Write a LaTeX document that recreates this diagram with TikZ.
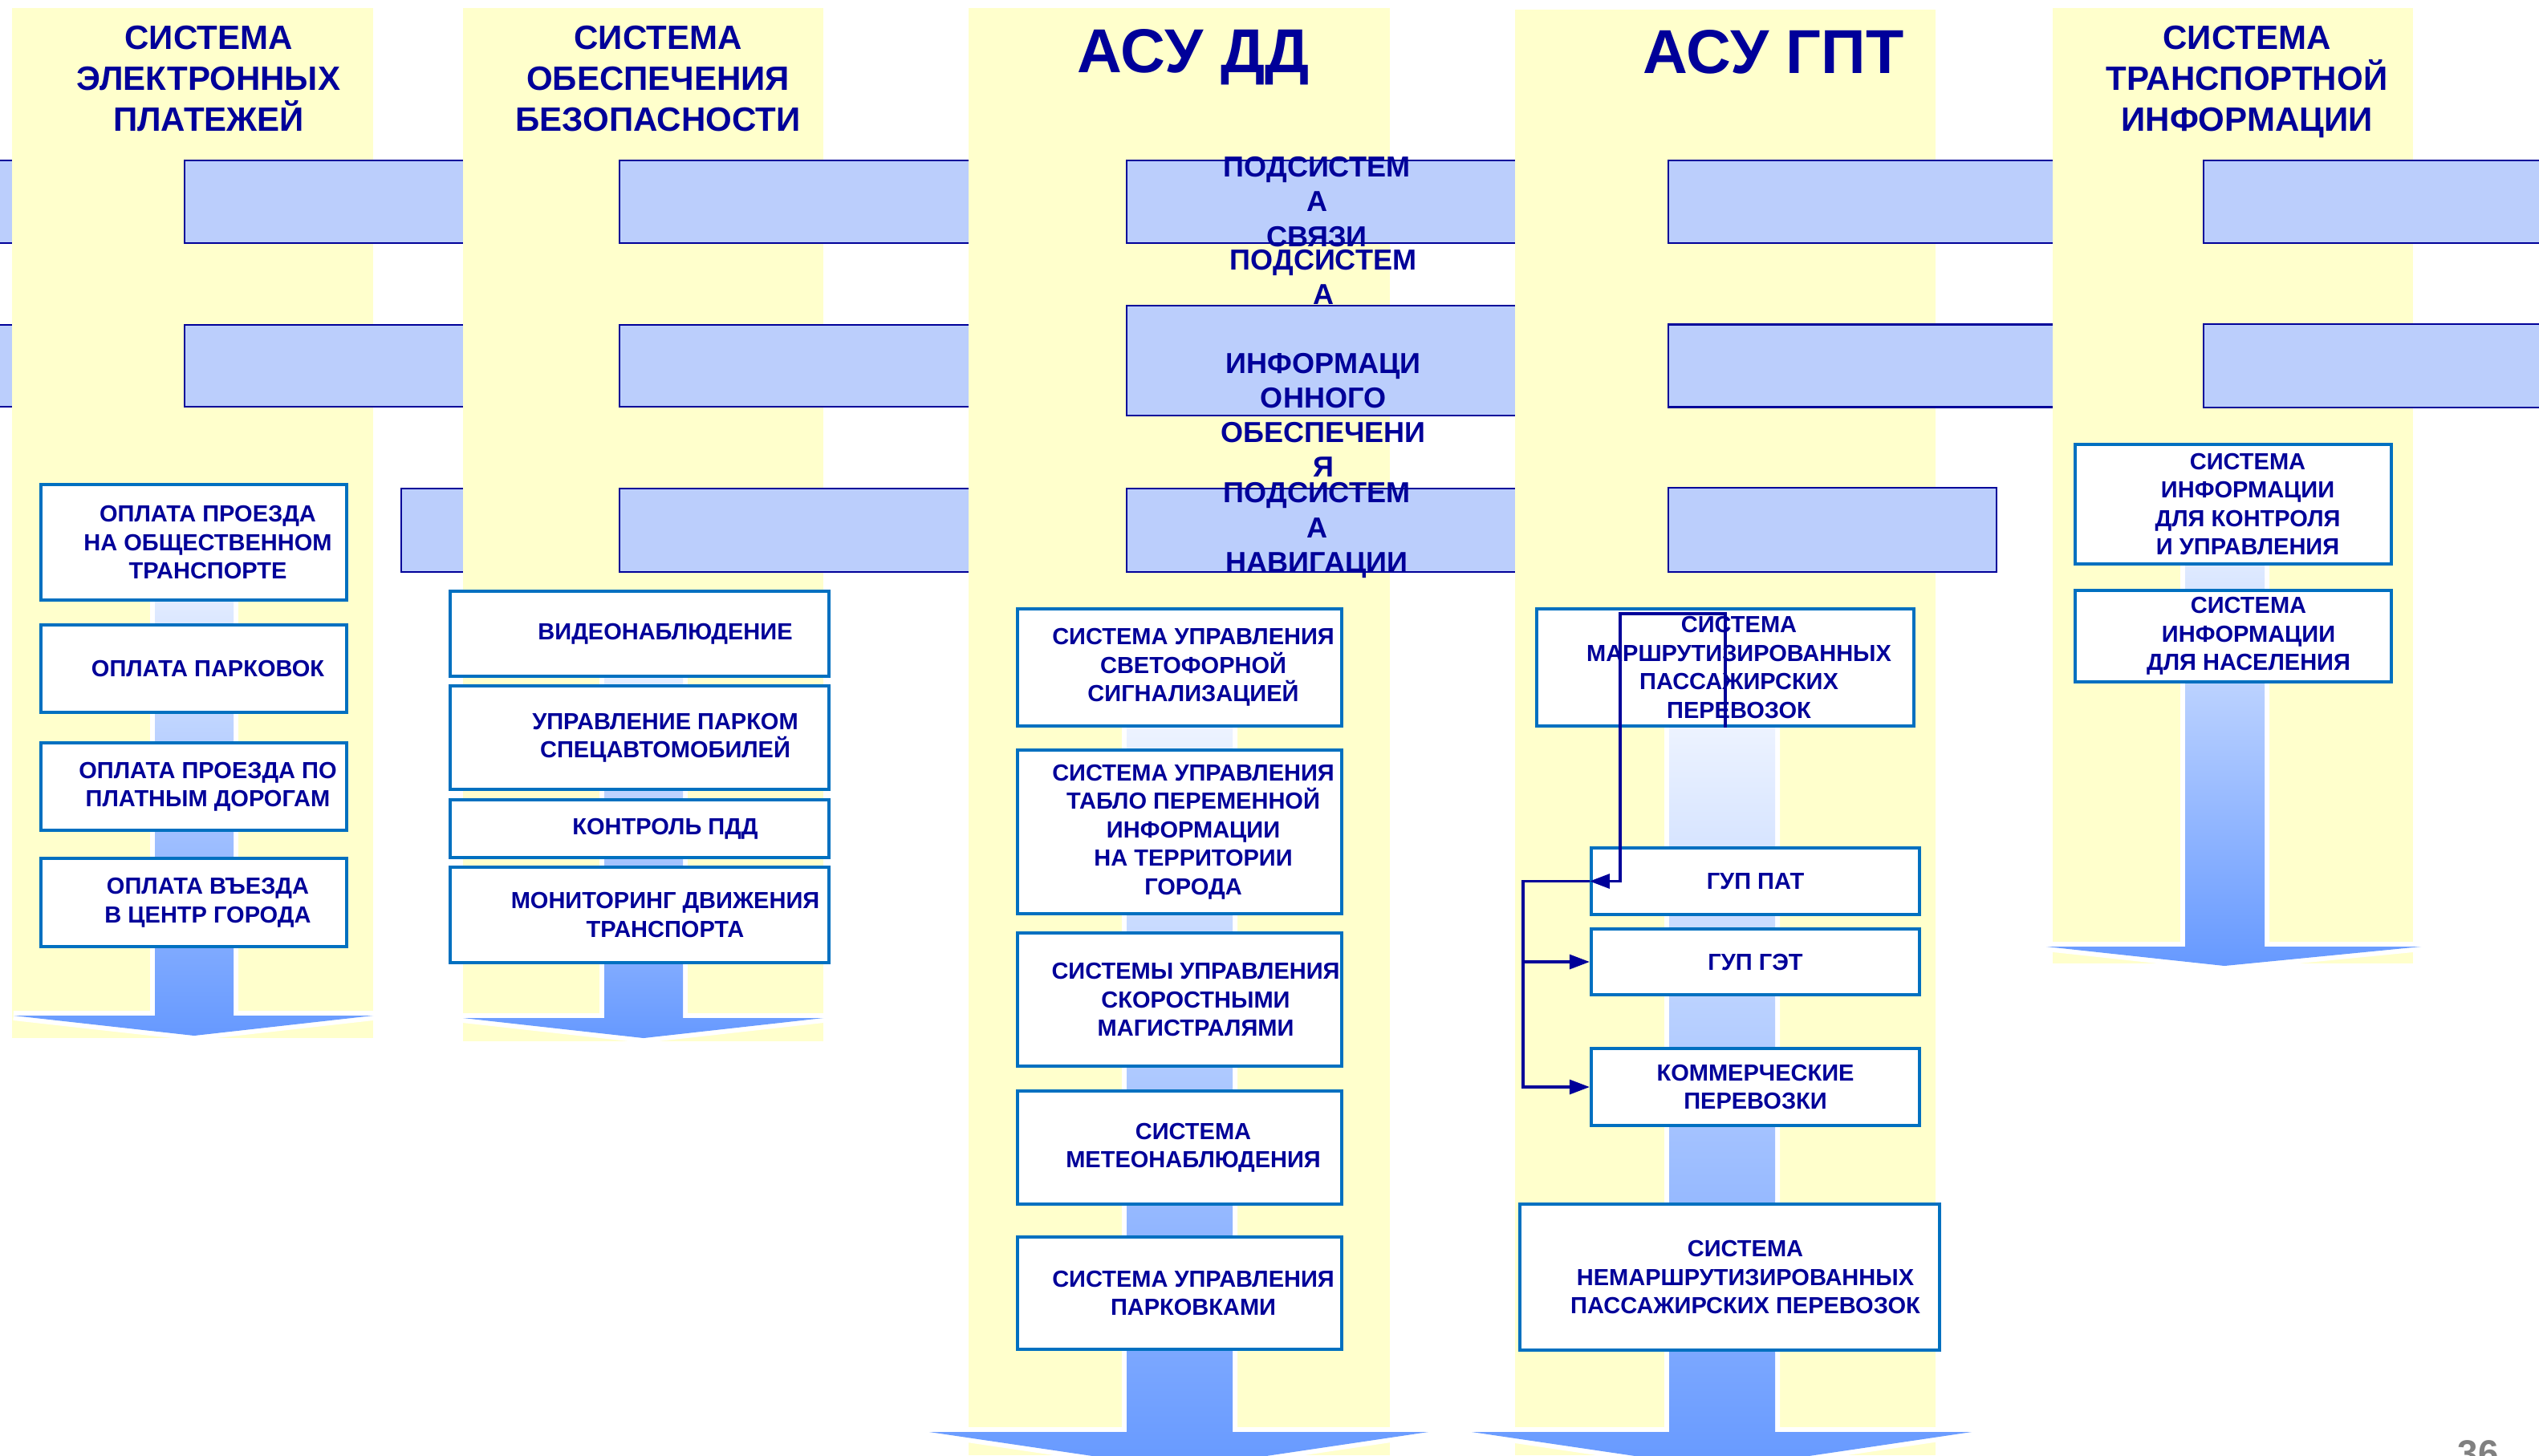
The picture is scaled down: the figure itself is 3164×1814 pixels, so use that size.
\documentclass[tikz,border=0pt]{standalone}
\usepackage{fontspec}
\setmainfont{Liberation Sans}
\usetikzlibrary{arrows.meta}
\definecolor{textnavy}{RGB}{0,0,153}
\definecolor{boxblue}{RGB}{0,112,192}
\definecolor{panelblue}{RGB}{187,206,252}
\definecolor{paleyellow}{RGB}{255,255,204}
\definecolor{flowblue}{RGB}{102,153,255}
\newcommand\boxtxtfont{\fontsize{8.25pt}{10.1pt}\selectfont\bfseries}
\newcommand\paneltxtfont{\fontsize{10.25pt}{12.25pt}\selectfont\bfseries}
\newcommand\headtxtfont{\fontsize{11.95pt}{14.5pt}\selectfont\bfseries}
\newcommand\bigtxtfont{\fontsize{22pt}{26pt}\selectfont\bfseries}
\newcommand\pagenumfont{\fontsize{13pt}{15pt}\selectfont\bfseries}
\tikzstyle{column} = [fill=paleyellow]
\tikzstyle{flow} = [top color=white, bottom color=flowblue, preaction={draw=white, line width=3.4pt, line join=bevel}]
\tikzstyle{panel} = [rectangle, draw=textnavy, fill=panelblue, line width=0.71pt, inner sep=0pt]
\tikzstyle{paneltxt} = [text=textnavy, font=\paneltxtfont, align=center, inner sep=0pt]
\tikzstyle{box} = [rectangle, draw=boxblue, fill=white, line width=1.14pt, inner sep=0pt]
\tikzstyle{txt} = [text=textnavy, font=\boxtxtfont, align=center, inner sep=0pt]
\tikzstyle{head} = [text=textnavy, font=\headtxtfont, align=center, anchor=north, inner sep=0pt]
\tikzstyle{line} = [draw=textnavy, line width=0.94pt, -{Triangle[length=7.1pt,width=5.1pt]}]

\begin{document}
\begin{tikzpicture}[x=0.01cm, y=-0.01cm]
\clip (0,0) rectangle (3164,1814);
\fill[white] (0,0) rectangle (3164,1814);
% panels coming from the left edge
\node [panel, minimum width=4.9cm, minimum height=1.03cm] (l1) at (-100,251.5) {};
\node [panel, minimum width=4.9cm, minimum height=1.02cm] (l2) at (-100,456) {};

% electronic payments
\fill [column] (15,10) rectangle (465,1294);
\path [flow] (193,620) -- (193,1266) -- (17,1266) -- (242,1291) -- (465,1266) -- (291,1266) -- (291,620) -- cycle;
\node [panel, minimum width=4.9cm, minimum height=1.03cm] (a1) at (475,251.5) {};
\node [panel, minimum width=4.9cm, minimum height=1.02cm] (a2) at (475,456) {};
\node [panel, minimum width=4.9cm, minimum height=1.04cm] (a3) at (745,661) {};
\node [head] (payhead) at (260,31) {СИСТЕМА\\ЭЛЕКТРОННЫХ\\ПЛАТЕЖЕЙ};
\node [box, minimum width=3.81cm, minimum height=1.44cm, label={[txt, xshift=0.175cm]center:{ОПЛАТА ПРОЕЗДА\\НА ОБЩЕСТВЕННОМ\\ТРАНСПОРТЕ}}] (pay1) at (241.5,676) {};
\node [box, minimum width=3.81cm, minimum height=1.09cm, label={[txt, xshift=0.175cm]center:{ОПЛАТА ПАРКОВОК}}] (pay2) at (241.5,833.5) {};
\node [box, minimum width=3.81cm, minimum height=1.09cm, label={[txt, xshift=0.175cm]center:{ОПЛАТА ПРОЕЗДА ПО\\ПЛАТНЫМ ДОРОГАМ}}] (pay3) at (241.5,980.5) {};
\node [box, minimum width=3.81cm, minimum height=1.10cm, label={[txt, xshift=0.175cm]center:{ОПЛАТА ВЪЕЗДА\\В ЦЕНТР ГОРОДА}}] (pay4) at (241.5,1125) {};

% safety
\fill [column] (577,10) rectangle (1026,1298);
\path [flow] (753,757) -- (753,1269) -- (577,1269) -- (802,1294) -- (1026,1269) -- (851,1269) -- (851,757) -- cycle;
\node [panel, minimum width=4.9cm, minimum height=1.03cm] (b1) at (1017,251.5) {};
\node [panel, minimum width=4.9cm, minimum height=1.02cm] (b2) at (1017,456) {};
\node [panel, minimum width=4.9cm, minimum height=1.04cm] (b3) at (1017,661) {};
\node [head] (safehead) at (820,31) {СИСТЕМА\\ОБЕСПЕЧЕНИЯ\\БЕЗОПАСНОСТИ};
\node [box, minimum width=4.72cm, minimum height=1.06cm, label={[txt, xshift=0.32cm]center:{ВИДЕОНАБЛЮДЕНИЕ}}] (safe1) at (797,790) {};
\node [box, minimum width=4.72cm, minimum height=1.29cm, label={[txt, xshift=0.32cm]center:{УПРАВЛЕНИЕ ПАРКОМ\\СПЕЦАВТОМОБИЛЕЙ}}] (safe2) at (797,919.5) {};
\node [box, minimum width=4.72cm, minimum height=0.72cm, label={[txt, xshift=0.32cm]center:{КОНТРОЛЬ ПДД}}] (safe3) at (797,1033) {};
\node [box, minimum width=4.72cm, minimum height=1.19cm, label={[txt, xshift=0.32cm]center:{МОНИТОРИНГ ДВИЖЕНИЯ\\ТРАНСПОРТА}}] (safe4) at (797,1140.5) {};

% ASU DD
\fill [column] (1207,10) rectangle (1732,1814);
\path [flow] (1404,779) -- (1404,1785) -- (1158,1785) -- (1470,1831) -- (1780,1785) -- (1536,1785) -- (1536,779) -- cycle;
\node [panel, minimum width=4.9cm, minimum height=1.03cm, label={[paneltxt, xshift=-0.08cm]center:{ПОДСИСТЕМ\\А\\СВЯЗИ}}] (c1) at (1649,251.5) {};
\node [panel, minimum width=4.9cm, minimum height=1.37cm, label={[paneltxt, yshift=-0.035cm]center:{ПОДСИСТЕМ\\А\\[0.43cm]ИНФОРМАЦИ\\ОННОГО\\ОБЕСПЕЧЕНИ\\Я}}] (c2) at (1649,449.5) {};
\node [panel, minimum width=4.9cm, minimum height=1.04cm, label={[paneltxt, xshift=-0.08cm]center:{ПОДСИСТЕМ\\А\\НАВИГАЦИИ}}] (c3) at (1649,661) {};
\node [head, font=\bigtxtfont] (ddhead) at (1487,36) {АСУ ДД};
\node [box, minimum width=4.04cm, minimum height=1.46cm, label={[txt, xshift=0.17cm]center:{СИСТЕМА УПРАВЛЕНИЯ\\СВЕТОФОРНОЙ\\СИГНАЛИЗАЦИЕЙ}}] (dd1) at (1470,832) {};
\node [box, minimum width=4.04cm, minimum height=2.04cm, label={[txt, xshift=0.17cm]center:{СИСТЕМА УПРАВЛЕНИЯ\\ТАБЛО ПЕРЕМЕННОЙ\\ИНФОРМАЦИИ\\НА ТЕРРИТОРИИ\\ГОРОДА}}] (dd2) at (1470,1037) {};
\node [box, minimum width=4.04cm, minimum height=1.66cm, label={[txt, xshift=0.2cm]center:{СИСТЕМЫ УПРАВЛЕНИЯ\\СКОРОСТНЫМИ\\МАГИСТРАЛЯМИ}}] (dd3) at (1470,1246) {};
\node [box, minimum width=4.04cm, minimum height=1.41cm, label={[txt, xshift=0.17cm]center:{СИСТЕМА\\МЕТЕОНАБЛЮДЕНИЯ}}] (dd4) at (1470,1430.5) {};
\node [box, minimum width=4.04cm, minimum height=1.40cm, label={[txt, xshift=0.17cm]center:{СИСТЕМА УПРАВЛЕНИЯ\\ПАРКОВКАМИ}}] (dd5) at (1470,1612) {};

% ASU GPT
\fill [column] (1888,12) rectangle (2412,1814);
\path [flow] (2080,779) -- (2080,1785) -- (1834,1785) -- (2146,1831) -- (2457,1785) -- (2212,1785) -- (2212,779) -- cycle;
\node [panel, minimum width=4.9cm, minimum height=1.03cm] (d1) at (2324,251.5) {};
\node [panel, minimum width=4.9cm, minimum height=1.03cm] (d2) at (2324,456) {};
\node [panel, minimum width=4.09cm, minimum height=1.05cm] (d3) at (2283.5,660.5) {};
\node [head, font=\bigtxtfont] (gpthead) at (2210,37) {АСУ ГПТ};
\node [box, minimum width=4.70cm, minimum height=1.46cm, label={[txt, xshift=0.17cm]center:{СИСТЕМА\\МАРШРУТИЗИРОВАННЫХ\\ПАССАЖИРСКИХ\\ПЕРЕВОЗОК}}] (marsh) at (2150,832) {};
\node [box, minimum width=4.09cm, minimum height=0.83cm, label={[txt]center:{ГУП ПАТ}}] (pat) at (2187.5,1098.5) {};
\node [box, minimum width=4.09cm, minimum height=0.82cm, label={[txt]center:{ГУП ГЭТ}}] (get) at (2187.5,1199) {};
\node [box, minimum width=4.09cm, minimum height=0.96cm, label={[txt]center:{КОММЕРЧЕСКИЕ\\ПЕРЕВОЗКИ}}] (kom) at (2187.5,1355) {};
\node [box, minimum width=5.23cm, minimum height=1.82cm, label={[txt, xshift=0.195cm]center:{СИСТЕМА\\НЕМАРШРУТИЗИРОВАННЫХ\\ПАССАЖИРСКИХ ПЕРЕВОЗОК}}] (nemarsh) at (2155.5,1592) {};
% Draw the edges
\coordinate (bend) at (2019,765);
\path [line] (marsh.south) |- (bend) |- (pat.west);
\path [line] (pat.west) -- ++(-83,0) |- (get.west);
\path [line] (pat.west) -- ++(-83,0) |- (kom.west);

% transport information
\fill [column] (2558,10) rectangle (3007,1201);
\path [flow] (2723,574) -- (2723,1180) -- (2550,1180) -- (2772,1204) -- (3017,1180) -- (2822,1180) -- (2822,574) -- cycle;
\node [panel, minimum width=4.9cm, minimum height=1.03cm] (e1) at (2991,251.5) {};
\node [panel, minimum width=4.9cm, minimum height=1.04cm] (e2) at (2991,456) {};
\node [head] (infohead) at (2800,31) {СИСТЕМА\\ТРАНСПОРТНОЙ\\ИНФОРМАЦИИ};
\node [box, minimum width=3.94cm, minimum height=1.49cm, label={[txt, xshift=0.18cm]center:{СИСТЕМА\\ИНФОРМАЦИИ\\ДЛЯ КОНТРОЛЯ\\И УПРАВЛЕНИЯ}}] (info1) at (2783,628.5) {};
\node [box, minimum width=3.94cm, minimum height=1.14cm, label={[txt, xshift=0.19cm]center:{СИСТЕМА\\ИНФОРМАЦИИ\\ДЛЯ НАСЕЛЕНИЯ}}] (info2) at (2783,793) {};

\node [anchor=base, text=gray, font=\pagenumfont, inner sep=0pt] (pagenum) at (3088,1827) {36};
\end{tikzpicture}
\end{document}
